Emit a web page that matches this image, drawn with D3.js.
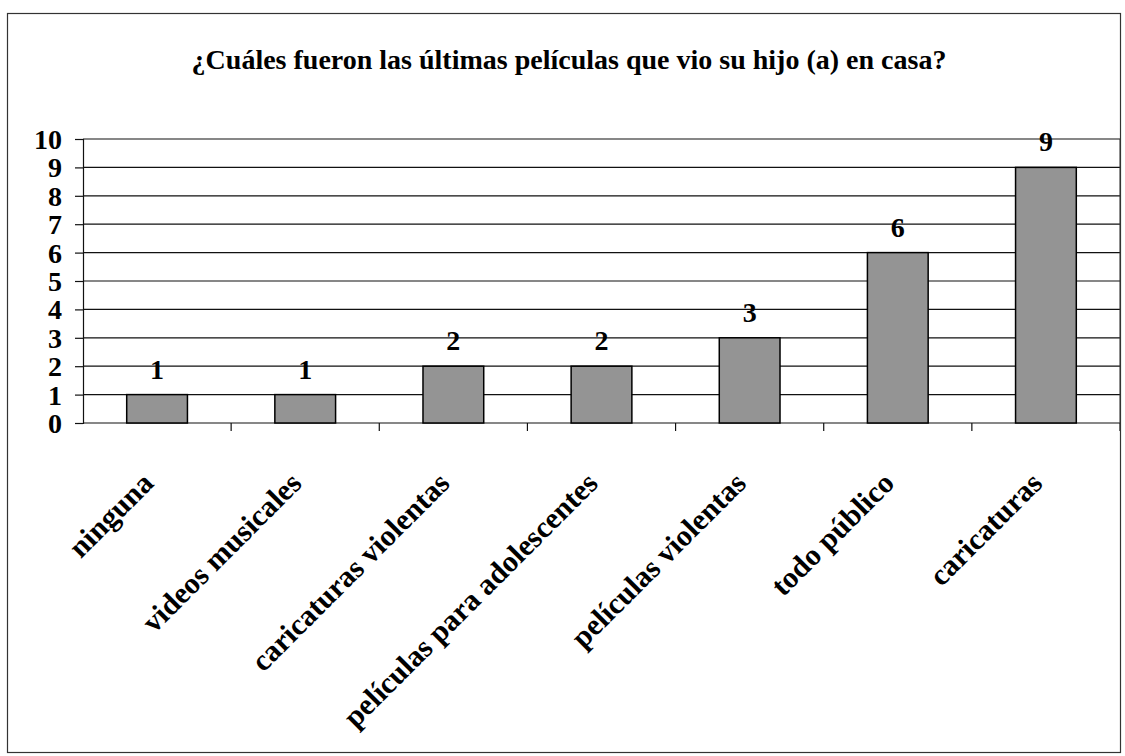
<!DOCTYPE html>
<html>
<head>
<meta charset="utf-8">
<script src="https://d3js.org/d3.v7.min.js"></script>
<style>
  body { margin: 0; background: #fff; }
  svg text { font-family: "Liberation Serif", "Times New Roman", serif; font-weight: bold; fill: #000; }
</style>
</head>
<body>
<svg id="main_graph" width="1125" height="756"></svg>
<script>

var title = "¿Cuáles fueron las últimas películas que vio su hijo (a) en casa?";
var categories = ["ninguna", "videos musicales", "caricaturas violentas", "películas para adolescentes",
                  "películas violentas", "todo público", "caricaturas"];
var values = [1, 1, 2, 2, 3, 6, 9];
var yTicks = [0, 1, 2, 3, 4, 5, 6, 7, 8, 9, 10];

var svg = d3.select("#main_graph");

var margin = {top: 139, right: 5, bottom: 333, left: 83},
    width  = 1125 - margin.left - margin.right,
    height = 756 - margin.top - margin.bottom,
    g = svg.append("g").attr("transform", "translate(" + margin.left + "," + margin.top + ")");

// outer frame
svg.append("rect")
    .attr("x", 7.5).attr("y", 13.5)
    .attr("width", 1113).attr("height", 739)
    .attr("fill", "none")
    .attr("stroke", "#333")
    .attr("stroke-width", 1.2);

svg.append("text")
    .attr("x", 569).attr("y", 69)
    .attr("text-anchor", "middle")
    .style("font-family", "'Liberation Serif', serif")
    .style("font-weight", "bold")
    .style("font-size", "28px")
    .text(title);

var x = d3.scaleBand().domain(categories).range([0, width]).paddingInner(0.59).paddingOuter(0.295);
var band = d3.scaleBand().domain(categories).range([0, width]);
var y = d3.scaleLinear().domain([0, 10]).range([height, 0]);

// gridlines
g.append("g")
    .selectAll("line")
    .data(yTicks)
    .enter().append("line")
    .attr("x1", 0).attr("x2", width)
    .attr("y1", function(d) { return y(d); })
    .attr("y2", function(d) { return y(d); })
    .attr("stroke", "#111")
    .attr("stroke-width", 1.2);

// plot right border
g.append("line")
    .attr("x1", width).attr("x2", width)
    .attr("y1", 0).attr("y2", height)
    .attr("stroke", "#333");

// y axis
var yAxis = g.append("g")
    .call(d3.axisLeft(y).tickValues(yTicks).tickSize(8).tickPadding(13).tickFormat(d3.format("d")));
yAxis.select(".domain").attr("stroke", "#111").attr("stroke-width", 1.2);
yAxis.selectAll("line").attr("stroke", "#111").attr("stroke-width", 1.2);
yAxis.selectAll("text")
    .style("font-size", "28px")
    .style("font-family", "'Liberation Serif', serif")
    .style("font-weight", "bold")
    .attr("dy", "0.34em");

// x axis ticks at band edges
g.append("g")
    .selectAll("line")
    .data(categories)
    .enter().append("line")
    .attr("x1", function(d) { return band(d) + band.bandwidth(); })
    .attr("x2", function(d) { return band(d) + band.bandwidth(); })
    .attr("y1", height).attr("y2", height + 8)
    .attr("stroke", "#111")
    .attr("stroke-width", 1.2);

// bars
g.selectAll(".bar")
    .data(values)
    .enter().append("rect")
    .attr("class", "bar")
    .attr("x", function(d, i) { return x(categories[i]); })
    .attr("y", function(d) { return y(d); })
    .attr("width", x.bandwidth())
    .attr("height", function(d) { return height - y(d); })
    .attr("fill", "#949494")
    .attr("stroke", "#000")
    .attr("stroke-width", 1.5);

// value labels
g.selectAll(".val")
    .data(values)
    .enter().append("text")
    .attr("class", "val")
    .attr("x", function(d, i) { return x(categories[i]) + x.bandwidth() / 2; })
    .attr("y", function(d) { return y(d) - 16; })
    .attr("text-anchor", "middle")
    .style("font-size", "28px")
    .text(function(d) { return d; });

// category labels
g.selectAll(".cat")
    .data(categories)
    .enter().append("text")
    .attr("class", "cat")
    .attr("text-anchor", "end")
    .style("font-size", "30px")
    .attr("transform", function(d) {
      return "translate(" + (band(d) + band.bandwidth() / 2 - 2) + "," + (height + 62) + ") rotate(-45)";
    })
    .text(function(d) { return d; });

</script>
</body>
</html>
